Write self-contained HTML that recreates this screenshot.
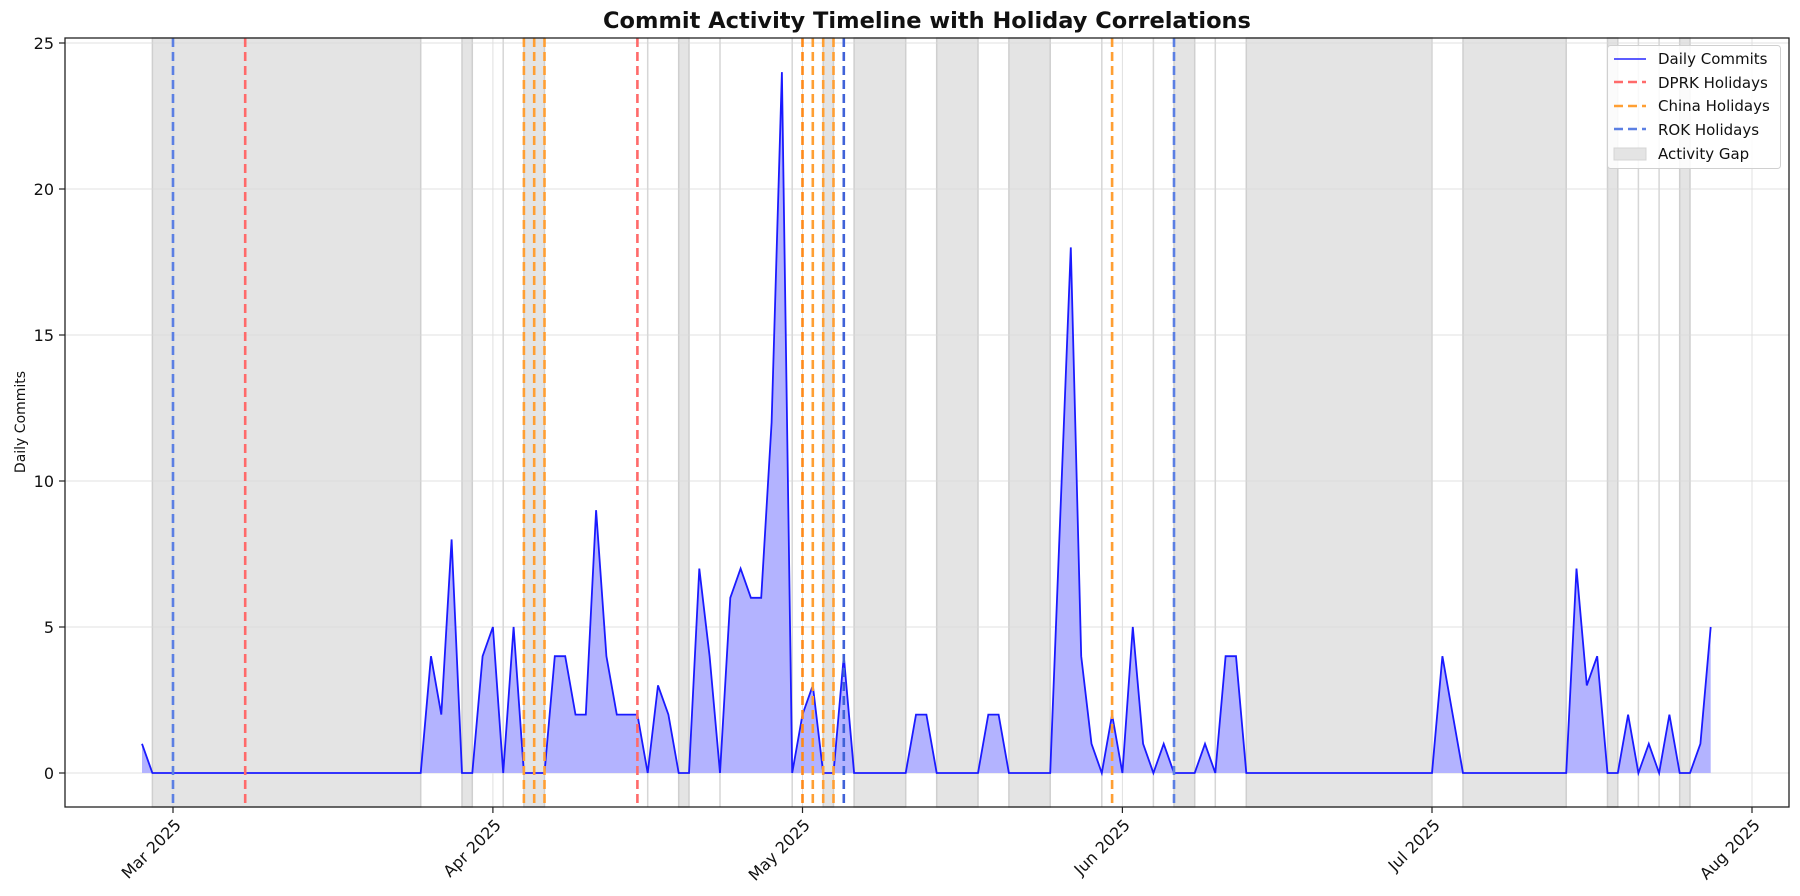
<!DOCTYPE html>
<html><head><meta charset="utf-8"><style>
html,body{margin:0;padding:0;background:#fff;}
svg{display:block;font-family:"DejaVu Sans","Liberation Sans",sans-serif;}
</style></head><body>
<svg width="1800" height="896" viewBox="0 0 1800 896" xmlns="http://www.w3.org/2000/svg">
<rect width="1800" height="896" fill="#fff"/>
<g fill="#e4e4e4" stroke="#cfcfcf" stroke-width="1.5">
<rect x="152.4" y="38" width="268.3" height="769"/>
<rect x="462.0" y="38" width="10.3" height="769"/>
<rect x="523.9" y="38" width="20.6" height="769"/>
<rect x="678.7" y="38" width="10.3" height="769"/>
<rect x="823.2" y="38" width="10.3" height="769"/>
<rect x="854.1" y="38" width="51.6" height="769"/>
<rect x="936.7" y="38" width="41.3" height="769"/>
<rect x="1008.9" y="38" width="41.3" height="769"/>
<rect x="1174.0" y="38" width="20.7" height="769"/>
<rect x="1246.3" y="38" width="185.7" height="769"/>
<rect x="1463.0" y="38" width="103.2" height="769"/>
<rect x="1607.5" y="38" width="10.3" height="769"/>
<rect x="1679.7" y="38" width="10.3" height="769"/>
</g>
<g stroke="#d6d6d6" stroke-width="1.5">
<line x1="503.2" y1="38" x2="503.2" y2="807"/>
<line x1="647.7" y1="38" x2="647.7" y2="807"/>
<line x1="720.0" y1="38" x2="720.0" y2="807"/>
<line x1="792.2" y1="38" x2="792.2" y2="807"/>
<line x1="1101.8" y1="38" x2="1101.8" y2="807"/>
<line x1="1153.4" y1="38" x2="1153.4" y2="807"/>
<line x1="1215.3" y1="38" x2="1215.3" y2="807"/>
<line x1="1638.4" y1="38" x2="1638.4" y2="807"/>
<line x1="1659.1" y1="38" x2="1659.1" y2="807"/>
</g>
<g stroke="#d9d9d9" stroke-width="1" opacity="0.8">
<line x1="65" y1="43" x2="1789" y2="43"/>
<line x1="65" y1="189" x2="1789" y2="189"/>
<line x1="65" y1="335" x2="1789" y2="335"/>
<line x1="65" y1="481" x2="1789" y2="481"/>
<line x1="65" y1="627" x2="1789" y2="627"/>
<line x1="65" y1="773" x2="1789" y2="773"/>
<line x1="173" y1="38" x2="173" y2="807"/>
<line x1="492.9" y1="38" x2="492.9" y2="807"/>
<line x1="802.5" y1="38" x2="802.5" y2="807"/>
<line x1="1122.4" y1="38" x2="1122.4" y2="807"/>
<line x1="1432" y1="38" x2="1432" y2="807"/>
<line x1="1752" y1="38" x2="1752" y2="807"/>
</g>
<polygon fill="#b3b3ff" points="142.0,773 142.0,743.8 152.4,773 420.7,773 431.0,656.2 441.3,714.6 451.6,539.4 462.0,773 472.3,773 482.6,656.2 492.9,627 503.2,773 513.6,627 523.9,773 544.5,773 554.8,656.2 565.2,656.2 575.5,714.6 585.8,714.6 596.1,510.2 606.4,656.2 616.8,714.6 627.1,714.6 637.4,714.6 647.7,773 658.0,685.4 668.4,714.6 678.7,773 689.0,773 699.3,568.6 709.6,656.2 720.0,773 730.3,597.8 740.6,568.6 750.9,597.8 761.2,597.8 771.6,422.6 781.9,72.2 792.2,773 802.5,714.6 812.8,685.4 823.2,773 833.5,773 843.8,656.2 854.1,773 905.7,773 916.0,714.6 926.4,714.6 936.7,773 978.0,773 988.3,714.6 998.6,714.6 1008.9,773 1050.2,773 1060.5,510.2 1070.8,247.4 1081.2,656.2 1091.5,743.8 1101.8,773 1112.1,714.6 1122.4,773 1132.8,627 1143.1,743.8 1153.4,773 1163.7,743.8 1174.0,773 1194.7,773 1205.0,743.8 1215.3,773 1225.6,656.2 1236.0,656.2 1246.3,773 1432.0,773 1442.4,656.2 1452.7,714.6 1463.0,773 1566.2,773 1576.5,568.6 1586.8,685.4 1597.2,656.2 1607.5,773 1617.8,773 1628.1,714.6 1638.4,773 1648.8,743.8 1659.1,773 1669.4,714.6 1679.7,773 1690.0,773 1700.4,743.8 1710.7,627 1710.7,773"/>
<polyline fill="none" stroke="#1a1aff" stroke-width="1.8" points="142.0,743.8 152.4,773 420.7,773 431.0,656.2 441.3,714.6 451.6,539.4 462.0,773 472.3,773 482.6,656.2 492.9,627 503.2,773 513.6,627 523.9,773 544.5,773 554.8,656.2 565.2,656.2 575.5,714.6 585.8,714.6 596.1,510.2 606.4,656.2 616.8,714.6 627.1,714.6 637.4,714.6 647.7,773 658.0,685.4 668.4,714.6 678.7,773 689.0,773 699.3,568.6 709.6,656.2 720.0,773 730.3,597.8 740.6,568.6 750.9,597.8 761.2,597.8 771.6,422.6 781.9,72.2 792.2,773 802.5,714.6 812.8,685.4 823.2,773 833.5,773 843.8,656.2 854.1,773 905.7,773 916.0,714.6 926.4,714.6 936.7,773 978.0,773 988.3,714.6 998.6,714.6 1008.9,773 1050.2,773 1060.5,510.2 1070.8,247.4 1081.2,656.2 1091.5,743.8 1101.8,773 1112.1,714.6 1122.4,773 1132.8,627 1143.1,743.8 1153.4,773 1163.7,743.8 1174.0,773 1194.7,773 1205.0,743.8 1215.3,773 1225.6,656.2 1236.0,656.2 1246.3,773 1432.0,773 1442.4,656.2 1452.7,714.6 1463.0,773 1566.2,773 1576.5,568.6 1586.8,685.4 1597.2,656.2 1607.5,773 1617.8,773 1628.1,714.6 1638.4,773 1648.8,743.8 1659.1,773 1669.4,714.6 1679.7,773 1690.0,773 1700.4,743.8 1710.7,627"/>
<g stroke-width="2.6" stroke-dasharray="9,5" fill="none">
<g stroke="#ff6a6a">
<line x1="245.2" y1="38" x2="245.2" y2="807"/>
<line x1="637.4" y1="38" x2="637.4" y2="807"/>
</g>
<g stroke="#ff9f33">
<line x1="523.9" y1="38" x2="523.9" y2="807"/>
<line x1="534.2" y1="38" x2="534.2" y2="807"/>
<line x1="544.5" y1="38" x2="544.5" y2="807"/>
<line x1="802.5" y1="38" x2="802.5" y2="807" stroke="#ff8a1a"/>
<line x1="812.8" y1="38" x2="812.8" y2="807"/>
<line x1="823.2" y1="38" x2="823.2" y2="807"/>
<line x1="833.5" y1="38" x2="833.5" y2="807"/>
<line x1="1112.1" y1="38" x2="1112.1" y2="807"/>
</g>
<g stroke="#5b7fe3">
<line x1="173" y1="38" x2="173" y2="807"/>
<line x1="843.8" y1="38" x2="843.8" y2="807" stroke="#3f62d8"/>
<line x1="1174.0" y1="38" x2="1174.0" y2="807"/>
</g>
</g>
<rect x="65" y="38" width="1724" height="769" fill="none" stroke="#222" stroke-width="1.3"/>
<g stroke="#222" stroke-width="1.2">
<line x1="59" y1="43" x2="65" y2="43"/>
<line x1="59" y1="189" x2="65" y2="189"/>
<line x1="59" y1="335" x2="65" y2="335"/>
<line x1="59" y1="481" x2="65" y2="481"/>
<line x1="59" y1="627" x2="65" y2="627"/>
<line x1="59" y1="773" x2="65" y2="773"/>
<line x1="173" y1="807" x2="173" y2="813"/>
<line x1="492.9" y1="807" x2="492.9" y2="813"/>
<line x1="802.5" y1="807" x2="802.5" y2="813"/>
<line x1="1122.4" y1="807" x2="1122.4" y2="813"/>
<line x1="1432" y1="807" x2="1432" y2="813"/>
<line x1="1752" y1="807" x2="1752" y2="813"/>
</g>
<g font-size="16" fill="#111" text-anchor="end">
<text x="54" y="49">25</text>
<text x="54" y="195">20</text>
<text x="54" y="341">15</text>
<text x="54" y="487">10</text>
<text x="54" y="633">5</text>
<text x="54" y="779">0</text>
</g>
<g font-size="16" fill="#111" text-anchor="end">
<text transform="translate(182,826) rotate(-45)">Mar 2025</text>
<text transform="translate(502,826) rotate(-45)">Apr 2025</text>
<text transform="translate(811,826) rotate(-45)">May 2025</text>
<text transform="translate(1131,826) rotate(-45)">Jun 2025</text>
<text transform="translate(1441,826) rotate(-45)">Jul 2025</text>
<text transform="translate(1761,826) rotate(-45)">Aug 2025</text>
</g>
<text transform="translate(25,422) rotate(-90)" font-size="14" fill="#111" text-anchor="middle">Daily Commits</text>
<text x="927" y="28" font-size="22.5" font-weight="bold" text-anchor="middle" fill="#111">Commit Activity Timeline with Holiday Correlations</text>
<rect x="1607.5" y="45.5" width="173" height="123" rx="3" fill="#fff" fill-opacity="0.85" stroke="#d0d0d0" stroke-width="1"/>
<line x1="1614" y1="59" x2="1646" y2="59" stroke="#4444ff" stroke-width="1.8"/>
<line x1="1614" y1="82" x2="1646" y2="82" stroke="#ff6a6a" stroke-width="2.6" stroke-dasharray="9,5"/>
<line x1="1614" y1="106" x2="1646" y2="106" stroke="#ff9f33" stroke-width="2.6" stroke-dasharray="9,5"/>
<line x1="1614" y1="129" x2="1646" y2="129" stroke="#5b7fe3" stroke-width="2.6" stroke-dasharray="9,5"/>
<rect x="1614" y="148" width="32" height="12" fill="#e4e4e4" stroke="#d4d4d4"/>
<g font-size="15" fill="#111">
<text x="1658" y="64">Daily Commits</text>
<text x="1658" y="88">DPRK Holidays</text>
<text x="1658" y="111">China Holidays</text>
<text x="1658" y="135">ROK Holidays</text>
<text x="1658" y="159">Activity Gap</text>
</g>
</svg>
</body></html>
